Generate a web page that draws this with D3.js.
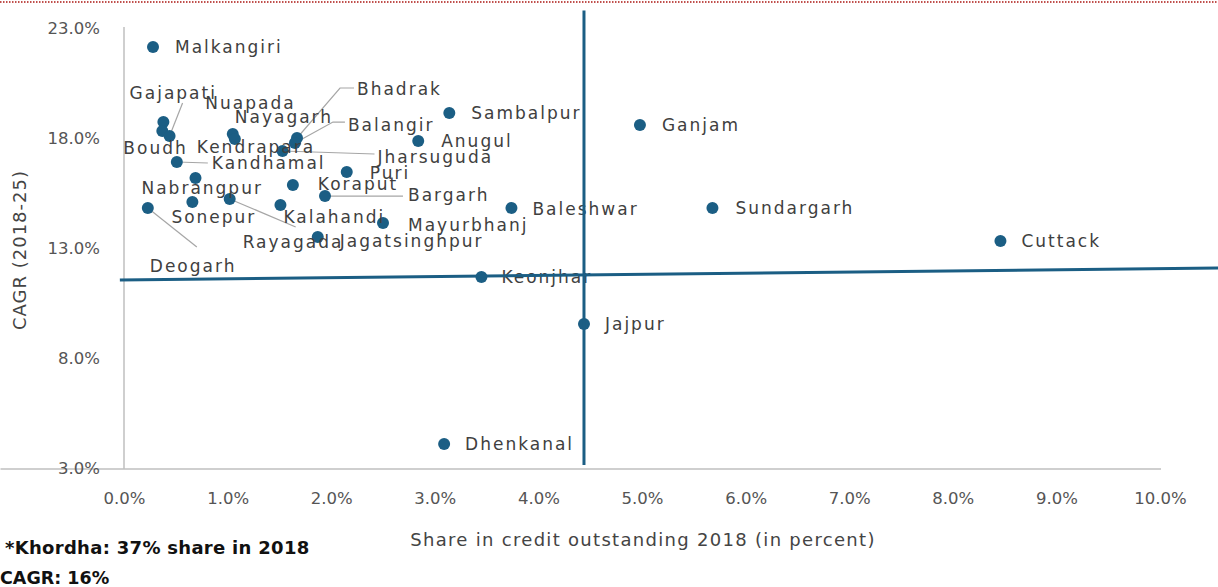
<!DOCTYPE html>
<html>
<head>
<meta charset="utf-8">
<script src="https://cdn.jsdelivr.net/npm/d3@7"></script>
<style>
  body { margin: 0; background: #fff; }
  svg { display: block; font-family: "DejaVu Sans", sans-serif; }
</style>
</head>
<body>
<svg id="chart" width="1218" height="587"></svg>
<script>
// district-wise share in 2018 credit outstanding (%) and CAGR 2018-25 (%)
const districts = [ "Malkangiri", "Nuapada", "Boudh", "Gajapati", "Nayagarh", "Kendrapara",
    "Bhadrak", "Balangir", "Jharsuguda", "Kandhamal", "Puri", "Nabrangpur", "Koraput",
    "Bargarh", "Sonepur", "Rayagada", "Kalahandi", "Deogarh", "Mayurbhanj", "Jagatsinghpur",
    "Sambalpur", "Anugul", "Baleshwar", "Ganjam", "Sundargarh", "Cuttack", "Keonjhar",
    "Jajpur", "Dhenkanal" ];
const share = [ 0.28, 0.38, 0.37, 0.44, 1.05, 1.07,
    1.67, 1.65, 1.53, 0.51, 2.15, 0.69, 1.63,
    1.94, 0.66, 1.02, 1.51, 0.23, 2.50, 1.87,
    3.14, 2.84, 3.74, 4.98, 5.68, 8.46, 3.45,
    4.44, 3.09 ];
const cagr = [ 22.14, 18.73, 18.32, 18.09, 18.18, 17.95,
    18.00, 17.77, 17.41, 16.91, 16.45, 16.18, 15.86,
    15.36, 15.09, 15.23, 14.95, 14.82, 14.14, 13.50,
    19.14, 17.86, 14.82, 18.59, 14.82, 13.32, 11.68,
    9.55, 4.09 ];

const xTicks = [ 0, 1, 2, 3, 4, 5, 6, 7, 8, 9, 10 ];
const yTicks = [ 3, 8, 13, 18, 23 ];

// quadrant lines (as drawn on the original)
const avgShareLine = [ [4.44, 23.8], [4.44, 3.14] ];
const avgCagrLine  = [ [-0.04, 11.55], [10.56, 12.09] ];

// label placement: offset of label start from the dot, in px
const labelPos = {
    Malkangiri: [22, 0], Nuapada: [42, -19], Boudh: [-39, 17], Gajapati: [-40, -43],
    Nayagarh: [2, -17], Kendrapara: [-38, 8], Bhadrak: [60, -49], Balangir: [53, -18],
    Jharsuguda: [95, 6], Kandhamal: [35, 1], Puri: [23, 1], Nabrangpur: [-54, 10],
    Koraput: [25, -1], Bargarh: [83, -1], Sonepur: [-21, 15], Rayagada: [13, 43],
    Kalahandi: [3, 12], Deogarh: [2, 58], Mayurbhanj: [25, 2], Jagatsinghpur: [22, 4],
    Sambalpur: [22, 0], Anugul: [23, 0], Baleshwar: [21, 1], Ganjam: [22, 0],
    Sundargarh: [23, 0], Cuttack: [21, 0], Keonjhar: [20, 0], Jajpur: [21, 0],
    Dhenkanal: [21, 0]
};
// leader lines: points after the dot, in px offsets
const leaders = {
    Gajapati: [[13, -33]], Bhadrak: [[43, -50], [57, -50]], Balangir: [[38, -21], [50, -21]],
    Kandhamal: [[31, 1]], Jharsuguda: [[92, 3]], Bargarh: [[78, 0]],
    Rayagada: [[66, 28]], Deogarh: [[49, 39]]
};

const blue = "#1b5e84", ink = "#404040";
const svg = d3.select("#chart");

// dotted red rule on top
svg.append("line")
    .attr("x1", 0).attr("x2", 1218).attr("y1", 2).attr("y2", 2)
    .attr("stroke", "#c0504d").attr("stroke-width", 2).attr("stroke-dasharray", "1.5,1.5");

const x = d3.scaleLinear().domain([0, 10]).range([124, 1160]);
const y = d3.scaleLinear().domain([3, 23]).range([468, 28]);
const pct = v => v.toFixed(1) + "%";

const xAxis = svg.append("g")
    .attr("transform", "translate(0,469)")
    .call(d3.axisBottom(x).tickValues(xTicks).tickFormat(pct).tickSize(0).tickPadding(23));
const yAxis = svg.append("g")
    .attr("transform", "translate(124,0)")
    .call(d3.axisLeft(y).tickValues(yTicks).tickFormat(pct).tickSize(0).tickPadding(24));
[xAxis, yAxis].forEach(a => {
    a.select(".domain").attr("stroke", "#bfbfbf").attr("stroke-width", 1.5);
    a.selectAll("text").attr("fill", "#555").style("font-size", "16.5px")
        .style("font-family", "DejaVu Sans");
});
xAxis.select(".domain").attr("d", "M0.5,0H1161");
yAxis.select(".domain").attr("d", "M0,27V469");

svg.append("text")
    .attr("x", 643).attr("y", 546).attr("text-anchor", "middle")
    .attr("fill", "#444").style("font-size", "18px").style("letter-spacing", "1.3px")
    .text("Share in credit outstanding 2018 (in percent)");
svg.append("text")
    .attr("transform", "translate(26,250) rotate(-90)").attr("text-anchor", "middle")
    .attr("fill", "#444").style("font-size", "18px").style("letter-spacing", "1px")
    .text("CAGR (2018-25)");

const data = districts.map((d, i) => ({ name: d, sx: share[i], cy: cagr[i] }));

// leader lines
const line = d3.line();
svg.append("g").selectAll("path")
    .data(data.filter(d => leaders[d.name]))
    .join("path")
    .attr("d", d => {
        const px = x(d.sx), py = y(d.cy);
        return line([[px, py]].concat(leaders[d.name].map(o => [px + o[0], py + o[1]])));
    })
    .attr("fill", "none").attr("stroke", "#a6a6a6").attr("stroke-width", 1.2);

// dots
svg.append("g").selectAll("circle")
    .data(data).join("circle")
    .attr("cx", d => x(d.sx)).attr("cy", d => y(d.cy)).attr("r", 6)
    .attr("fill", blue);

// labels
svg.append("g").selectAll("text")
    .data(data).join("text")
    .attr("x", d => x(d.sx) + labelPos[d.name][0])
    .attr("y", d => y(d.cy) + labelPos[d.name][1])
    .attr("dy", "0.35em")
    .attr("fill", ink).style("font-size", "17px").style("letter-spacing", "2px")
    .text(d => d.name);

// quadrant lines on top
[avgShareLine, avgCagrLine].forEach(l => {
    svg.append("path")
        .attr("d", line(l.map(p => [x(p[0]), y(p[1])])))
        .attr("stroke", blue).attr("stroke-width", 3).attr("fill", "none");
});

// footnote
svg.append("text").attr("x", 5).attr("y", 554)
    .style("font-size", "18px").style("font-weight", "bold").style("letter-spacing", "0.3px")
    .attr("fill", "#111")
    .text("*Khordha: 37% share in 2018");
svg.append("text").attr("x", 0).attr("y", 584)
    .style("font-size", "17.5px").style("font-weight", "bold").attr("fill", "#111")
    .text("CAGR: 16%");
</script>
</body>
</html>
